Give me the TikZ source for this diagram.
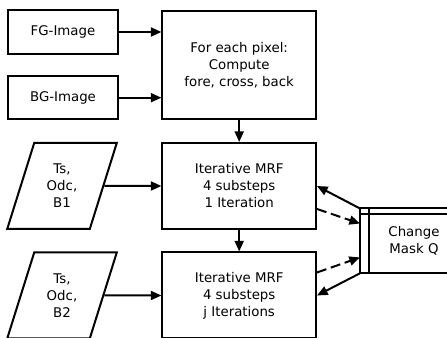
\documentclass[tikz,border=0pt]{standalone}
\usepackage{fontspec}
\setmainfont{DejaVu Sans}
\usetikzlibrary{arrows.meta,shapes.geometric}
\begin{document}
\begin{tikzpicture}[x=.75pt,y=.75pt,font=\fontsize{10}{12.75}\selectfont,
  box/.style={draw,line width=1.5pt,align=center,inner sep=2pt},
  data/.style={draw,line width=1.5pt,align=center,shape=trapezium,trapezium left angle=70,trapezium right angle=110,trapezium stretches=true,minimum width=82.5pt,minimum height=64.5pt},
  flow/.style={line width=1.5pt,-{Triangle[length=8pt,width=6.75pt]}},
  dashflow/.style={flow,dash pattern=on 7.5pt off 3.5pt}]
\useasboundingbox (0,0) rectangle (447,338);
\clip (0,0) rectangle (447,338);
\node[box,minimum width=82.1pt,minimum height=32.3pt] (fg) at (63,306) {FG-Image};
\node[box,minimum width=82.1pt,minimum height=32.6pt] (bg) at (63,240.3) {BG-Image};
\node[box,minimum width=115.1pt,minimum height=81pt] (compute) at (239.2,273) {For each pixel:\\Compute\\fore, cross, back};
\node[box,minimum width=115.1pt,minimum height=64.5pt] (mrf1) at (239.2,152) {Iterative MRF\\4 substeps\\1 Iteration};
\node[box,minimum width=115.1pt,minimum height=64.5pt] (mrf2) at (239.2,42.5) {Iterative MRF\\4 substeps\\j Iterations};
\node[data] (par1) at (62,152) {Ts,\\Odc,\\B1};
\node[data] (par2) at (62,42.5) {Ts,\\Odc,\\B2};
\node[box,outer sep=0pt,minimum width=75pt,minimum height=48.6pt] (mask) at (410,97.1) {};
\node[align=center] (masktext) at (414,97.1) {Change\\Mask Q};
\draw[line width=1.5pt] ([yshift=-4.1pt]mask.north west) -- ([yshift=-4.1pt]mask.north east);
\draw[line width=1.5pt] ([xshift=6.4pt]mask.north west) -- ([xshift=6.4pt]mask.south west);
\draw[flow] (fg) -- (compute.west |- fg);
\draw[flow] (bg) -- (compute.west |- bg);
\draw[flow] (compute) -- (mrf1);
\draw[flow] (mrf1) -- (mrf2);
\draw[flow] (par1) -- (mrf1);
\draw[flow] (par2) -- (mrf2);
\draw[flow] (mask.north west) -- (mrf1.east);
\draw[dashflow] ([yshift=-17.25pt]mrf1.east) -- ([yshift=13pt]mask.west);
\draw[dashflow] ([yshift=17.25pt]mrf2.east) -- ([yshift=-12.4pt]mask.west);
\draw[flow] (mask.south west) -- (mrf2.east);
\end{tikzpicture}
\end{document}
